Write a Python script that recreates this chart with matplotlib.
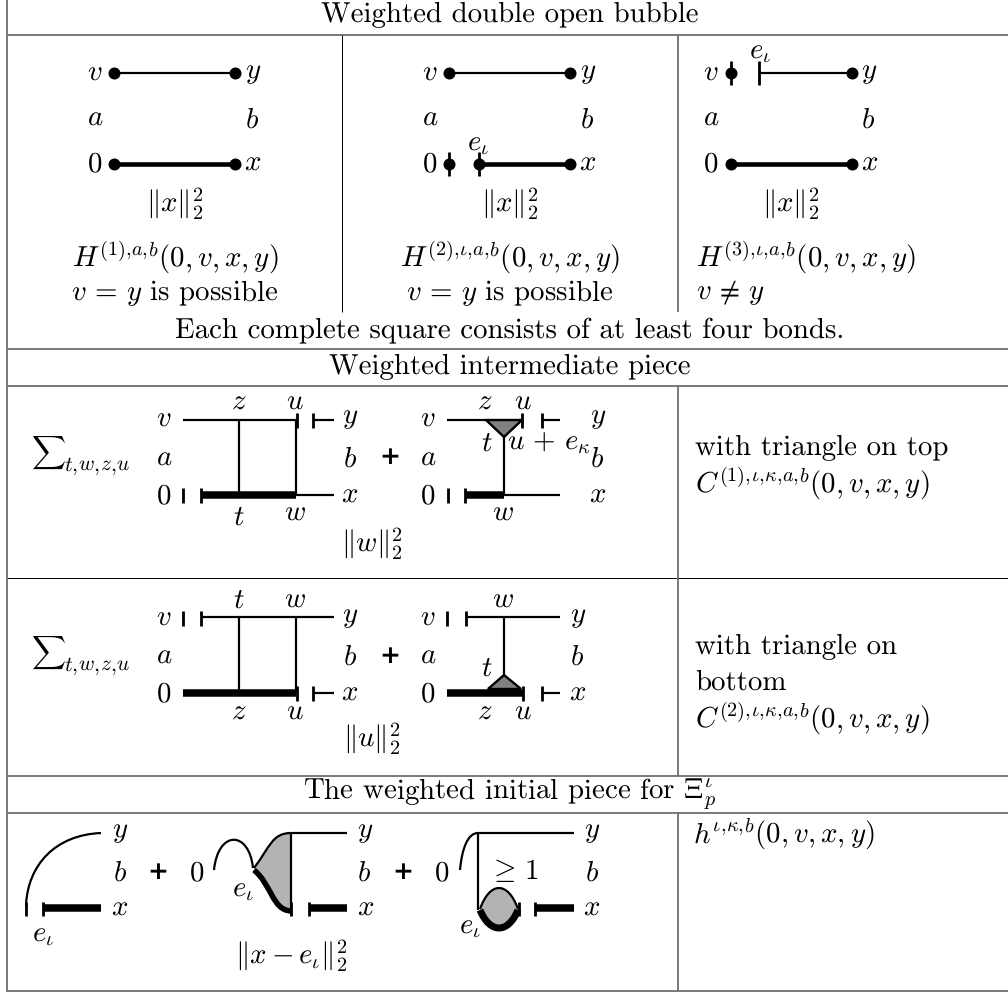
import matplotlib
matplotlib.use("Agg")
import matplotlib.pyplot as plt
from matplotlib.path import Path
from matplotlib.patches import PathPatch, Polygon

plt.rcParams['font.family'] = ['cmr10', 'DejaVu Sans']
plt.rcParams['mathtext.fontset'] = 'cm'
plt.rcParams['axes.unicode_minus'] = False
plt.rcParams['text.hinting'] = 'none'

GRID_GREY = '#6e6e6e'
hrules_grey = [35, 349, 385.5, 776, 813, 991]
hrules_thin = [578]
vrule_left = 7
vrules_grey = [(678, 35, 312), (678, 385.5, 776), (678, 813, 991)]
vrules_thin = [(342, 35, 312)]

# text: (x, y, string, horizontal alignment)
FS = 20.8
texts = [
    (510, 15, 'Weighted double open bubble', 'center'),
    (510, 330, 'Each complete square consists of at least four bonds.', 'center'),
    (510, 367, 'Weighted intermediate piece', 'center'),
    (510, 794, r'The weighted initial piece for $\Xi_p^{\iota}$', 'center'),
    # first row
    (95, 73, '$v$', 'center'), (253, 73, '$y$', 'center'),
    (95, 118, '$a$', 'center'), (252, 120, '$b$', 'center'),
    (95, 164, '$0$', 'center'), (253, 163, '$x$', 'center'),
    (175, 203, r'$\|x\|_2^2$', 'center'),
    (175, 257, r'$H^{(1),\!a,\!b}(0,v,x,y)$', 'center'),
    (175, 293, r'$v\,=\,y$ is possible', 'center'),
    (430, 73, '$v$', 'center'), (588, 73, '$y$', 'center'),
    (430, 118, '$a$', 'center'), (587, 120, '$b$', 'center'),
    (430, 164, '$0$', 'center'), (588, 163, '$x$', 'center'),
    (478, 144, r'$e_\iota$', 'center'),
    (510, 203, r'$\|x\|_2^2$', 'center'),
    (510, 257, r'$H^{(2),\!\iota,\!a,\!b}(0,v,x,y)$', 'center'),
    (510, 293, r'$v\,=\,y$ is possible', 'center'),
    (711, 73, '$v$', 'center'), (869, 73, '$y$', 'center'),
    (711, 118, '$a$', 'center'), (868, 120, '$b$', 'center'),
    (711, 164, '$0$', 'center'), (870, 163, '$x$', 'center'),
    (760, 52, r'$e_\iota$', 'center'),
    (791, 203, r'$\|x\|_2^2$', 'center'),
    (696, 257, r'$H^{(3),\!\iota,\!a,\!b}(0,v,x,y)$', 'left'),
    (696, 293, r'$v\,\neq\,y$', 'left'),
    # second row
    (164, 419, '$v$', 'center'), (164, 458, '$a$', 'center'), (164, 496, '$0$', 'center'),
    (239, 402, '$z$', 'center'), (295, 402, '$u$', 'center'),
    (239, 517, '$t$', 'center'), (295, 513, '$w$', 'center'),
    (350, 418, '$y$', 'center'), (350, 459, '$b$', 'center'), (350, 495, '$x$', 'center'),
    (428, 419, '$v$', 'center'), (428, 458, '$a$', 'center'), (428, 496, '$0$', 'center'),
    (485, 402, '$z$', 'center'), (523, 402, '$u$', 'center'),
    (487, 443, '$t$', 'center'), (549, 443, r'$u\,+\,e_\kappa$', 'center'),
    (503, 513, '$w$', 'center'),
    (598, 418, '$y$', 'center'), (597, 459, '$b$', 'center'), (598, 495, '$x$', 'center'),
    (372, 543, r'$\|w\|_2^2$', 'center'),
    (695, 448, 'with triangle on top', 'left'),
    (695, 483, r'$C^{(1),\!\iota,\!\kappa,\!a,\!b}(0,v,x,y)$', 'left'),
    # third row
    (164, 618, '$v$', 'center'), (164, 656, '$a$', 'center'), (164, 694, '$0$', 'center'),
    (239, 600, '$t$', 'center'), (295, 600, '$w$', 'center'),
    (239, 712, '$z$', 'center'), (295, 712, '$u$', 'center'),
    (350, 617, '$y$', 'center'), (350, 657, '$b$', 'center'), (350, 693, '$x$', 'center'),
    (428, 618, '$v$', 'center'), (428, 656, '$a$', 'center'), (428, 694, '$0$', 'center'),
    (503, 600, '$w$', 'center'), (487, 668, '$t$', 'center'),
    (485, 712, '$z$', 'center'), (523, 712, '$u$', 'center'),
    (578, 617, '$y$', 'center'), (577, 657, '$b$', 'center'), (578, 693, '$x$', 'center'),
    (372, 738, r'$\|u\|_2^2$', 'center'),
    (695, 647, 'with triangle on', 'left'),
    (695, 682, 'bottom', 'left'),
    (695, 718, r'$C^{(2),\!\iota,\!\kappa,\!a,\!b}(0,v,x,y)$', 'left'),
    # last row
    (120, 832, '$y$', 'center'), (120, 873, '$b$', 'center'), (120, 908, '$x$', 'center'),
    (43, 935, r'$e_\iota$', 'center'),
    (197, 873, '$0$', 'center'), (243, 890, r'$e_\iota$', 'center'),
    (291, 955, r'$\|x-e_\iota\|_2^2$', 'center'),
    (365, 832, '$y$', 'center'), (364, 873, '$b$', 'center'), (366, 908, '$x$', 'center'),
    (442, 873, '$0$', 'center'), (470, 927, r'$e_\iota$', 'center'),
    (513, 871, r'$\geq\,1$', 'center'),
    (592, 832, '$y$', 'center'), (592, 873, '$b$', 'center'), (592, 908, '$x$', 'center'),
    (693, 834, r'$h^{\iota,\!\kappa,\!b}(0,v,x,y)$', 'left'),
]
sums = [(48, 453, 97, 466), (48, 653, 97, 666)]
sum_label = r'$t,\!w,\!z,\!u$'
plus_signs = [(390, 457), (390, 656), (158, 872), (403, 872)]

# straight bonds: (x0, y0, x1, y1, line width in px)
THIN, MED, THICK = 2.2, 4.6, 7.5
bonds = [
    # first row
    (114, 73, 235, 73, THIN), (114, 164, 235, 164, MED),
    (449, 73, 570, 73, THIN), (479, 164, 570, 164, MED),
    (759, 73, 852, 73, THIN), (731, 164, 852, 164, MED),
    # second row, left square
    (183, 420, 297, 420, THIN), (239, 420, 239, 495, THIN), (296, 420, 296, 495, THIN),
    (201, 495, 296, 495, THICK), (296, 495, 334, 495, THIN), (313, 420, 334, 420, THIN),
    # second row, right
    (447, 420, 486, 420, THIN), (504, 437, 504, 495, THIN),
    (465, 495, 504, 495, THICK), (504, 495, 560, 495, THIN), (542, 420, 560, 420, THIN),
    # third row, left square
    (201, 617, 334, 617, THIN), (239, 617, 239, 693, THIN), (296, 617, 296, 693, THIN),
    (183, 693, 296, 693, THICK), (313, 693, 334, 693, THIN),
    # third row, right
    (466, 617, 560, 617, THIN), (504, 617, 504, 675, THIN),
    (447, 693, 523, 693, THICK), (542, 693, 560, 693, THIN),
    # last row
    (44, 908, 101, 908, THICK), (291, 833, 347, 833, THIN), (291, 833, 291, 912, THIN),
    (309, 908, 347, 908, THICK),
    (478, 833, 574, 833, THIN), (478, 833, 478, 910, THIN),
    (535, 908, 574, 908, THICK),
]
# short cut marks: (x, y, half height in px)
ticks = [
    (449, 164, 12), (479, 164, 12), (731, 73, 12), (759, 73, 12),
    (183, 495, 7.5), (201, 495, 7.5), (297, 420, 7.5), (313, 420, 7.5),
    (448, 495, 7.5), (465, 495, 7.5), (522, 420, 7.5), (542, 420, 7.5),
    (183, 618, 7.5), (201, 618, 7.5), (447, 618, 7.5), (466, 618, 7.5),
    (297, 693, 7.5), (313, 693, 7.5), (523, 693, 7.5), (542, 693, 7.5),
    (26, 909, 7), (43, 909, 7), (291, 909, 7), (309, 909, 7),
    (519, 909, 7), (535, 909, 7),
]
# end dots of the open bubble
dots = [
    (114, 73), (235, 73), (114, 164), (235, 164),
    (449, 73), (570, 73), (449, 164), (479, 164), (570, 164),
    (731, 73), (852, 73), (731, 164), (852, 164),
]
triangles = [
    [(486, 420), (522, 420), (504, 437)],
    [(488, 689), (521, 689), (504, 675)],
]
GREY_DARK = '#808080'
GREY_LIGHT = '#b3b3b3'

# curved bonds, as Bezier control points with line width
curves = [
    ([(26, 905), (28, 865), (55, 835), (101, 833)], THIN),
    ([(214, 870), (218, 830), (249, 830), (253, 868)], THIN),
    ([(254, 868), (270, 847), (272, 833), (291, 833)], THIN),
    ([(460, 870), (462, 848), (468, 833), (478, 833)], THIN),
]
fills = [
    ([(254, 868), (270, 847), (272, 833), (291, 833)], [(291, 912), (270, 912), (272, 885), (254, 868)]),
]
fat_curves = [
    ([(254, 870), (272, 885), (272, 910), (291, 911)], 5.5),
    ([(480, 910), (490, 934), (508, 934), (518, 910)], 7.0),
]
bubble_top = [(480, 909), (490, 881), (508, 881), (518, 909)]
bubble_bot = [(518, 909), (508, 932), (490, 932), (480, 909)]

fig = plt.figure(figsize=(10.08, 9.94), dpi=100)
ax = fig.add_axes([0, 0, 1, 1])
ax.set_xlim(0, 1008)
ax.set_ylim(994, 0)
ax.axis('off')
PX = 0.72  # one pixel in points at 100 dpi

for y in hrules_grey:
    ax.plot([7, 1008], [y, y], color=GRID_GREY, lw=1.8 * PX, solid_capstyle='butt')
for y in hrules_thin:
    ax.plot([7, 1008], [y, y], color='black', lw=1.0 * PX, solid_capstyle='butt')
ax.plot([vrule_left, vrule_left], [0, 992], color=GRID_GREY, lw=1.8 * PX, solid_capstyle='butt')
for x, y0, y1 in vrules_grey:
    ax.plot([x, x], [y0, y1], color=GRID_GREY, lw=1.8 * PX, solid_capstyle='butt')
for x, y0, y1 in vrules_thin:
    ax.plot([x, x], [y0, y1], color='black', lw=1.0 * PX, solid_capstyle='butt')

for x0, y0, x1, y1, w in bonds:
    ax.plot([x0, x1], [y0, y1], color='black', lw=w * PX, solid_capstyle='butt')
for x, y, h in ticks:
    ax.plot([x, x], [y - h, y + h], color='black', lw=2.8 * PX, solid_capstyle='butt')
for x, y in dots:
    ax.plot([x], [y], 'o', color='black', ms=12 * PX, mew=0)
for tri in triangles:
    ax.add_patch(Polygon(tri, closed=True, fc=GREY_DARK, ec='black', lw=2.4 * PX))

CUBIC = [Path.MOVETO, Path.CURVE4, Path.CURVE4, Path.CURVE4]
for top, bot in fills:
    verts = top + [bot[0]] + bot[1:] + [top[0]]
    codes = CUBIC + [Path.LINETO, Path.CURVE4, Path.CURVE4, Path.CURVE4, Path.CLOSEPOLY]
    ax.add_patch(PathPatch(Path(verts, codes), fc=GREY_LIGHT, ec='none'))
ax.add_patch(PathPatch(Path(bubble_top + bubble_bot[1:] + [bubble_top[0]],
                            CUBIC + [Path.CURVE4, Path.CURVE4, Path.CURVE4, Path.CLOSEPOLY]),
                       fc=GREY_LIGHT, ec='none'))
for pts, w in curves + fat_curves:
    ax.add_patch(PathPatch(Path(pts, CUBIC), fc='none', ec='black', lw=w * PX))
ax.add_patch(PathPatch(Path(bubble_top, CUBIC), fc='none', ec='black', lw=THIN * PX))

for x, y, s, ha in texts:
    ax.text(x, y, s, ha=ha, va='center', fontsize=FS, color='black')
for sx, sy, lx, ly in sums:
    ax.text(sx, sy, r'$\sum$', ha='center', va='center', fontsize=FS * 0.82, color='black')
    ax.text(lx, ly, sum_label, ha='center', va='center', fontsize=FS * 0.74, color='black')
for x, y in plus_signs:
    ax.text(x, y, '+', ha='center', va='center', fontsize=18, fontweight='bold',
            family='DejaVu Sans', color='black')

fig.savefig('out.png', dpi=100, facecolor='white')
